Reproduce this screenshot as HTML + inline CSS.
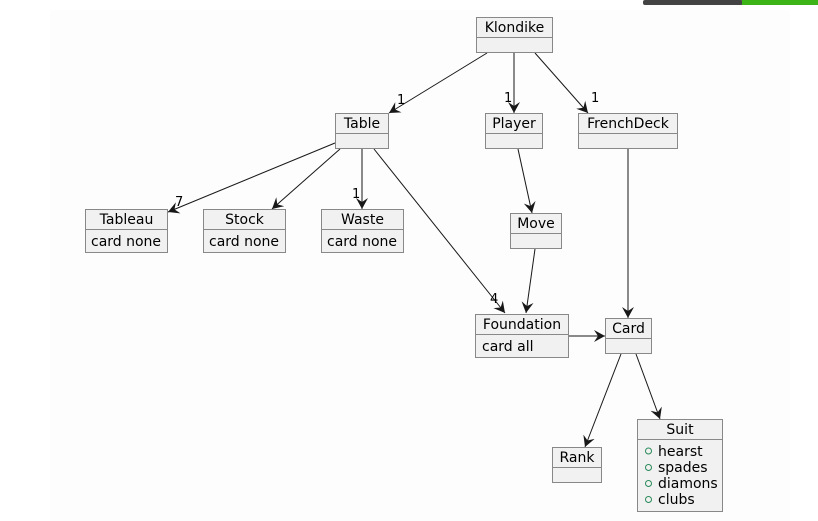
<!DOCTYPE html>
<html><head><meta charset="utf-8"><style>
html,body{margin:0;padding:0;background:#fff;width:818px;height:521px;overflow:hidden}
svg{display:block}
text{font-family:"DejaVu Sans","Liberation Sans",sans-serif;font-size:14px;fill:#000}
.b{fill:#f1f1f1;stroke:#888;stroke-width:1}
.l{stroke:#181818;stroke-width:1;fill:none}
.m{font-size:13px}
</style></head><body>
<svg width="818" height="521" viewBox="0 0 818 521">
<defs><marker id="a" markerWidth="14" markerHeight="12" refX="11" refY="6" orient="auto" markerUnits="userSpaceOnUse"><path d="M0,0 L11,6 L0,12 L4,6 Z" fill="#181818"/></marker></defs>
<rect x="50" y="10" width="740" height="511" fill="#fdfdfd"/>
<rect x="643" y="0" width="100" height="5" rx="2" fill="#444"/>
<rect x="742" y="0" width="76" height="5" fill="#3cb317"/>

<g class="l" marker-end="url(#a)">
<line x1="487" y1="53" x2="389" y2="113"/>
<line x1="514" y1="53" x2="514" y2="113"/>
<line x1="535" y1="53" x2="588" y2="113"/>
<line x1="335" y1="143" x2="168" y2="212"/>
<line x1="340" y1="149" x2="272" y2="209"/>
<line x1="362" y1="149" x2="362" y2="209"/>
<line x1="374" y1="149" x2="505" y2="313"/>
<line x1="518" y1="149" x2="532" y2="213"/>
<line x1="535" y1="249" x2="526" y2="313"/>
<line x1="628" y1="149" x2="628" y2="318"/>
<line x1="569" y1="336" x2="605" y2="336"/>
<line x1="621" y1="354" x2="585" y2="447"/>
<line x1="636" y1="354" x2="660" y2="419"/>
</g>
<text class="m" x="397" y="104">1</text>
<text class="m" x="504" y="102">1</text>
<text class="m" x="591" y="102">1</text>
<text class="m" x="175" y="206">7</text>
<text class="m" x="352" y="198">1</text>
<text class="m" x="490" y="303">4</text>

<g>
<rect class="b" x="476.5" y="17.5" width="76" height="35"/><line class="b" x1="476.5" y1="37.5" x2="552.5" y2="37.5"/><text x="514.5" y="32" text-anchor="middle">Klondike</text>
<rect class="b" x="335.5" y="113.5" width="53" height="35"/><line class="b" x1="335.5" y1="133.5" x2="388.5" y2="133.5"/><text x="362" y="128" text-anchor="middle">Table</text>
<rect class="b" x="485.5" y="113.5" width="57" height="35"/><line class="b" x1="485.5" y1="133.5" x2="542.5" y2="133.5"/><text x="514" y="128" text-anchor="middle">Player</text>
<rect class="b" x="578.5" y="113.5" width="99" height="35"/><line class="b" x1="578.5" y1="133.5" x2="677.5" y2="133.5"/><text x="628" y="128" text-anchor="middle">FrenchDeck</text>

<rect class="b" x="85.5" y="209.5" width="82" height="43"/><line class="b" x1="85.5" y1="229.5" x2="167.5" y2="229.5"/><text x="126.5" y="224" text-anchor="middle">Tableau</text><text x="91" y="246">card none</text>
<rect class="b" x="203.5" y="209.5" width="82" height="43"/><line class="b" x1="203.5" y1="229.5" x2="285.5" y2="229.5"/><text x="244.5" y="224" text-anchor="middle">Stock</text><text x="209" y="246">card none</text>
<rect class="b" x="321.5" y="209.5" width="82" height="43"/><line class="b" x1="321.5" y1="229.5" x2="403.5" y2="229.5"/><text x="362.5" y="224" text-anchor="middle">Waste</text><text x="327" y="246">card none</text>

<rect class="b" x="510.5" y="213.5" width="51" height="35"/><line class="b" x1="510.5" y1="233.5" x2="561.5" y2="233.5"/><text x="536" y="228" text-anchor="middle">Move</text>

<rect class="b" x="475.5" y="314.5" width="93" height="43"/><line class="b" x1="475.5" y1="334.5" x2="568.5" y2="334.5"/><text x="522" y="329" text-anchor="middle">Foundation</text><text x="482" y="351">card all</text>
<rect class="b" x="605.5" y="318.5" width="46" height="35"/><line class="b" x1="605.5" y1="338.5" x2="651.5" y2="338.5"/><text x="628.5" y="333" text-anchor="middle">Card</text>

<rect class="b" x="552.5" y="447.5" width="49" height="35"/><line class="b" x1="552.5" y1="467.5" x2="601.5" y2="467.5"/><text x="577" y="462" text-anchor="middle">Rank</text>

<rect class="b" x="637.5" y="419.5" width="85" height="92"/><line class="b" x1="637.5" y1="439.5" x2="722.5" y2="439.5"/><text x="680" y="434" text-anchor="middle">Suit</text>
<g fill="none" stroke="#2a8a5a" stroke-width="1"><circle cx="648.5" cy="451" r="3"/><circle cx="648.5" cy="467.5" r="3"/><circle cx="648.5" cy="483.5" r="3"/><circle cx="648.5" cy="499.5" r="3"/></g>
<text x="658" y="456">hearst</text>
<text x="658" y="472">spades</text>
<text x="658" y="488">diamons</text>
<text x="658" y="504">clubs</text>
</g>
</svg>
</body></html>
